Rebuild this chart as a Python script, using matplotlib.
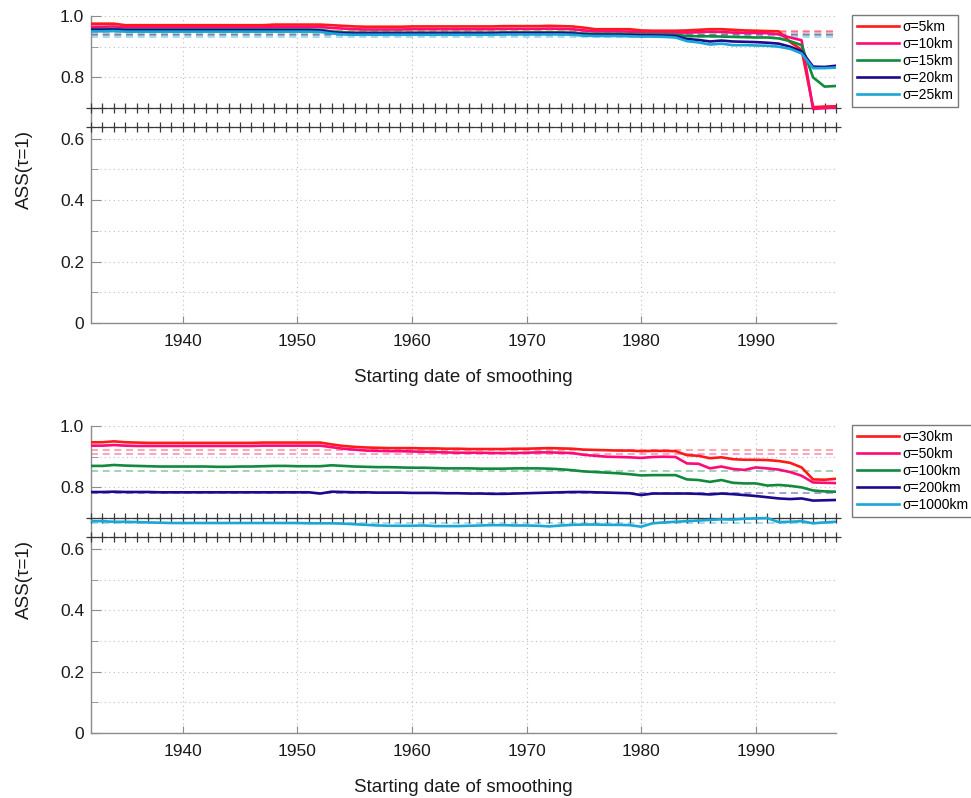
import numpy as np
import matplotlib
matplotlib.use("Agg")
import matplotlib.pyplot as plt
from matplotlib.ticker import MultipleLocator, FixedLocator, FixedFormatter

plt.rcParams['font.family'] = ['Liberation Sans', 'DejaVu Sans']

years = np.arange(1932, 1998)

# ---- upper panel: small smoothing scales ----
top_labels = ["σ=5km", "σ=10km", "σ=15km", "σ=20km", "σ=25km"]
s5 = [0.975, 0.975, 0.975, 0.970, 0.970, 0.970, 0.970, 0.970, 0.970, 0.970,
      0.970, 0.970, 0.970, 0.970, 0.970, 0.970, 0.972, 0.972, 0.972, 0.972,
      0.972, 0.970, 0.968, 0.966, 0.965, 0.965, 0.965, 0.965, 0.966, 0.966,
      0.966, 0.966, 0.966, 0.966, 0.966, 0.966, 0.967, 0.967, 0.967, 0.967,
      0.968, 0.967, 0.966, 0.962, 0.957, 0.957, 0.957, 0.957, 0.953, 0.952,
      0.952, 0.952, 0.953, 0.955, 0.957, 0.957, 0.955, 0.953, 0.952, 0.951,
      0.950, 0.915, 0.890, 0.703, 0.705, 0.706]
s10 = [0.965, 0.965, 0.966, 0.963, 0.963, 0.963, 0.963, 0.963, 0.963, 0.963,
       0.963, 0.963, 0.963, 0.963, 0.963, 0.963, 0.964, 0.964, 0.964, 0.964,
       0.964, 0.961, 0.959, 0.957, 0.956, 0.956, 0.956, 0.956, 0.957, 0.957,
       0.957, 0.957, 0.957, 0.957, 0.957, 0.957, 0.958, 0.958, 0.958, 0.958,
       0.959, 0.958, 0.957, 0.953, 0.950, 0.950, 0.950, 0.949, 0.947, 0.946,
       0.946, 0.946, 0.946, 0.947, 0.949, 0.948, 0.946, 0.945, 0.945, 0.944,
       0.940, 0.930, 0.921, 0.697, 0.700, 0.702]
s15 = [0.957, 0.957, 0.958, 0.956, 0.956, 0.956, 0.956, 0.956, 0.956, 0.956,
       0.956, 0.956, 0.956, 0.956, 0.956, 0.956, 0.956, 0.956, 0.956, 0.956,
       0.955, 0.950, 0.947, 0.946, 0.946, 0.946, 0.946, 0.946, 0.946, 0.946,
       0.946, 0.946, 0.946, 0.946, 0.946, 0.946, 0.947, 0.947, 0.947, 0.947,
       0.947, 0.947, 0.946, 0.943, 0.942, 0.942, 0.942, 0.941, 0.940, 0.940,
       0.940, 0.939, 0.935, 0.934, 0.934, 0.933, 0.932, 0.931, 0.930, 0.930,
       0.927, 0.918, 0.905, 0.800, 0.770, 0.772]
s20 = [0.955, 0.955, 0.956, 0.954, 0.954, 0.954, 0.954, 0.954, 0.954, 0.954,
       0.954, 0.954, 0.954, 0.954, 0.954, 0.954, 0.954, 0.954, 0.954, 0.954,
       0.953, 0.947, 0.944, 0.943, 0.943, 0.943, 0.943, 0.943, 0.943, 0.943,
       0.943, 0.943, 0.943, 0.943, 0.943, 0.943, 0.944, 0.944, 0.944, 0.944,
       0.944, 0.944, 0.943, 0.940, 0.939, 0.939, 0.939, 0.938, 0.937, 0.937,
       0.936, 0.935, 0.925, 0.922, 0.917, 0.920, 0.917, 0.916, 0.915, 0.913,
       0.910, 0.900, 0.885, 0.835, 0.834, 0.838]
s25 = [0.950, 0.950, 0.951, 0.949, 0.949, 0.949, 0.949, 0.949, 0.949, 0.949,
       0.949, 0.949, 0.949, 0.949, 0.949, 0.949, 0.949, 0.949, 0.949, 0.949,
       0.948, 0.943, 0.940, 0.939, 0.939, 0.939, 0.939, 0.939, 0.939, 0.939,
       0.939, 0.939, 0.939, 0.939, 0.939, 0.939, 0.940, 0.940, 0.940, 0.940,
       0.940, 0.940, 0.939, 0.936, 0.935, 0.935, 0.935, 0.934, 0.933, 0.933,
       0.932, 0.930, 0.918, 0.914, 0.907, 0.910, 0.905, 0.905, 0.904, 0.903,
       0.900, 0.893, 0.878, 0.830, 0.830, 0.832]
top_ref = [0.952, 0.947, 0.940, 0.938, 0.932]

# ---- lower panel: large smoothing scales ----
bot_labels = ["σ=30km", "σ=50km", "σ=100km", "σ=200km", "σ=1000km"]
s30 = [0.947, 0.947, 0.950, 0.947, 0.946, 0.945, 0.945, 0.945, 0.945, 0.945,
       0.945, 0.945, 0.945, 0.945, 0.945, 0.946, 0.946, 0.946, 0.946, 0.946,
       0.946, 0.940, 0.935, 0.932, 0.930, 0.929, 0.928, 0.928, 0.928, 0.927,
       0.927, 0.926, 0.926, 0.925, 0.925, 0.925, 0.925, 0.926, 0.926, 0.927,
       0.928, 0.927, 0.926, 0.923, 0.922, 0.921, 0.920, 0.920, 0.918, 0.919,
       0.919, 0.918, 0.905, 0.903, 0.895, 0.898, 0.892, 0.890, 0.890, 0.889,
       0.886, 0.880, 0.865, 0.826, 0.825, 0.828]
s50 = [0.936, 0.936, 0.938, 0.936, 0.935, 0.935, 0.935, 0.935, 0.935, 0.935,
       0.935, 0.935, 0.935, 0.935, 0.935, 0.936, 0.936, 0.936, 0.936, 0.936,
       0.936, 0.931, 0.926, 0.923, 0.920, 0.919, 0.918, 0.918, 0.917, 0.916,
       0.915, 0.914, 0.913, 0.913, 0.913, 0.912, 0.912, 0.912, 0.913, 0.914,
       0.914, 0.913, 0.912, 0.906, 0.903, 0.900, 0.899, 0.898, 0.896, 0.899,
       0.900, 0.899, 0.878, 0.877, 0.862, 0.868, 0.860, 0.857, 0.865, 0.862,
       0.858, 0.850, 0.838, 0.816, 0.815, 0.814]
s100 = [0.870, 0.870, 0.873, 0.871, 0.870, 0.869, 0.868, 0.868, 0.868, 0.868,
        0.868, 0.867, 0.867, 0.868, 0.868, 0.869, 0.870, 0.870, 0.869, 0.869,
        0.869, 0.872, 0.870, 0.868, 0.867, 0.866, 0.866, 0.865, 0.864, 0.864,
        0.863, 0.862, 0.862, 0.862, 0.861, 0.861, 0.861, 0.862, 0.862, 0.862,
        0.861, 0.859, 0.856, 0.852, 0.850, 0.848, 0.846, 0.843, 0.839, 0.840,
        0.840, 0.840, 0.826, 0.824, 0.818, 0.824, 0.815, 0.813, 0.813, 0.806,
        0.808, 0.805, 0.800, 0.790, 0.787, 0.786]
s200 = [0.785, 0.785, 0.786, 0.785, 0.785, 0.785, 0.784, 0.784, 0.784, 0.784,
        0.784, 0.784, 0.784, 0.784, 0.784, 0.784, 0.784, 0.784, 0.784, 0.784,
        0.780, 0.786, 0.785, 0.784, 0.784, 0.783, 0.783, 0.783, 0.782, 0.782,
        0.782, 0.781, 0.781, 0.780, 0.780, 0.779, 0.779, 0.780, 0.781, 0.782,
        0.783, 0.784, 0.785, 0.785, 0.784, 0.783, 0.782, 0.781, 0.775, 0.780,
        0.780, 0.780, 0.780, 0.779, 0.777, 0.780, 0.778, 0.775, 0.772, 0.768,
        0.764, 0.762, 0.764, 0.757, 0.758, 0.759]
s1000 = [0.690, 0.690, 0.688, 0.688, 0.687, 0.686, 0.685, 0.684, 0.684, 0.684,
         0.684, 0.684, 0.684, 0.684, 0.684, 0.684, 0.684, 0.684, 0.684, 0.683,
         0.683, 0.683, 0.682, 0.680, 0.678, 0.676, 0.675, 0.675, 0.675, 0.676,
         0.674, 0.674, 0.674, 0.675, 0.676, 0.677, 0.677, 0.676, 0.676, 0.675,
         0.673, 0.676, 0.678, 0.679, 0.679, 0.678, 0.678, 0.677, 0.672, 0.683,
         0.686, 0.688, 0.690, 0.692, 0.694, 0.696, 0.695, 0.698, 0.699, 0.700,
         0.687, 0.688, 0.690, 0.683, 0.686, 0.688]
bot_ref = [0.922, 0.909, 0.853, 0.783, 0.684]

# significance levels drawn as marker rows
sig_levels = [0.70, 0.64]

colors = ["#ff1a1a", "#ff0a78", "#128a3e", "#1c0a8c", "#1aa6d6"]

W, H = 971, 798
fig = plt.figure(figsize=(W / 100, H / 100), dpi=100)

axes_px = [(16, 323), (426, 733)]
left_px, right_px = 91, 836
panels = [
    ([s5, s10, s15, s20, s25], top_labels, top_ref),
    ([s30, s50, s100, s200, s1000], bot_labels, bot_ref),
]

for (ytop, ybot), (series, labels, refs) in zip(axes_px, panels):
    ax = fig.add_axes([left_px / W, 1 - ybot / H,
                       (right_px - left_px) / W, (ybot - ytop) / H])
    ax.set_xlim(1932, 1997)
    ax.set_ylim(0, 1)

    # dotted grid
    ax.xaxis.set_major_locator(FixedLocator([1940, 1950, 1960, 1970, 1980, 1990]))
    ax.yaxis.set_major_locator(FixedLocator([0, 0.2, 0.4, 0.6, 0.8, 1.0]))
    ax.yaxis.set_major_formatter(FixedFormatter(["0", "0.2", "0.4", "0.6", "0.8", "1.0"]))
    ax.yaxis.set_minor_locator(MultipleLocator(0.1))
    ax.grid(True, which="both", axis="y", linestyle=(0, (1, 3)), color="#bdbdbd", lw=0.8)
    ax.grid(True, which="major", axis="x", linestyle=(0, (1, 3)), color="#bdbdbd", lw=0.8)
    ax.set_axisbelow(True)

    for side in ("top", "right"):
        ax.spines[side].set_visible(False)
    for side in ("left", "bottom"):
        ax.spines[side].set_color("#8c8c8c")
        ax.spines[side].set_linewidth(1.0)
    ax.tick_params(axis="both", which="both", direction="in", color="#8c8c8c",
                   labelsize=12.5, labelcolor="#1a1a1a")
    ax.tick_params(axis="y", which="major", length=7, pad=5)
    ax.tick_params(axis="y", which="minor", length=5)
    ax.tick_params(axis="x", which="major", length=5, pad=8)

    # reference levels
    for r, c in zip(refs, colors):
        ax.axhline(r, color=c, alpha=0.45, lw=1.2, linestyle=(0, (4.2, 2.8)), zorder=2)

    # significance markers
    for lev in sig_levels:
        ax.plot(years, np.full(len(years), lev), color="#3a3a3a", lw=0.8,
                marker="+", markersize=7, markeredgewidth=0.9, clip_on=False, zorder=3)

    handles = []
    for vals, c, lab in zip(series, colors, labels):
        h, = ax.plot(years, vals, color=c, lw=1.9, label=lab, zorder=4)
        handles.append(h)

    ax.set_xlabel("Starting date of smoothing", fontsize=13.5, labelpad=14, color="#1a1a1a")
    ax.set_ylabel("ASS(τ=1)", fontsize=13.5, labelpad=19, color="#1a1a1a")

    leg = ax.legend(handles=handles, loc="upper left",
                    bbox_to_anchor=(852 / W, 1 - (ytop - 1) / H),
                    bbox_transform=fig.transFigure, borderaxespad=0,
                    fontsize=10, handlelength=3.0, handletextpad=0.25,
                    labelspacing=0.22, borderpad=0.35, fancybox=False,
                    framealpha=1, edgecolor="#7a7a7a")
    leg.get_frame().set_linewidth(1.0)

fig.savefig("out.png", dpi=100)
